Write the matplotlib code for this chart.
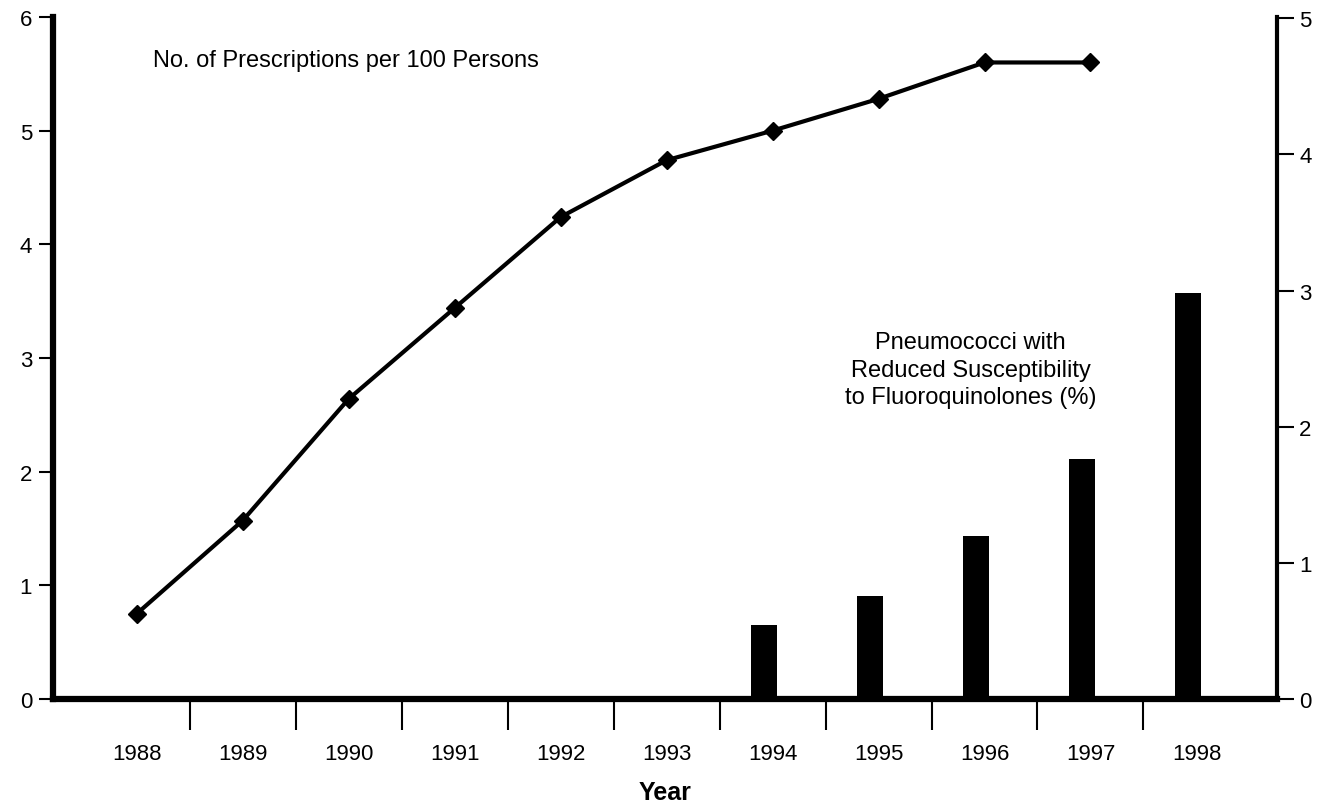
import matplotlib
matplotlib.use("Agg")
import matplotlib.pyplot as plt
import numpy as np

plt.rcParams['font.family'] = ['Liberation Sans', 'DejaVu Sans']

years = ['1988', '1989', '1990', '1991', '1992', '1993', '1994', '1995', '1996', '1997', '1998']
prescriptions = [0.75, 1.57, 2.64, 3.44, 4.24, 4.74, 5.0, 5.28, 5.6, 5.6]  # 1988-1997
bar_years = ['1994', '1995', '1996', '1997', '1998']
resistance = [0.54, 0.76, 1.2, 1.76, 2.98]

fig = plt.figure(figsize=(13.19, 8.04), dpi=100)
ax = fig.add_axes([53/1319, 1 - 700/804, (1277-53)/1319, (700-18)/804])
ax2 = ax.twinx()

x_all = np.arange(len(years))
bx = np.array([years.index(y) for y in bar_years]) - 0.08
ax2.bar(bx, resistance, width=0.25, color='black', zorder=2)
ax.plot(x_all[:len(prescriptions)], prescriptions, color='black', lw=3,
        marker='D', markersize=9, zorder=3)

ax.set_zorder(ax2.get_zorder() + 1)
ax.patch.set_visible(False)

ax.set_xlim(-0.79, 10.76)
ax.set_ylim(0, 6)
ax2.set_ylim(0, 5.01)

for a in (ax, ax2):
    a.spines['top'].set_visible(False)
ax.spines['left'].set_linewidth(4.5)
ax.spines['bottom'].set_linewidth(4.5)
ax.spines['right'].set_visible(False)
ax2.spines['left'].set_visible(False)
ax2.spines['bottom'].set_visible(False)
ax2.spines['right'].set_linewidth(3)

ax.set_yticks(range(0, 7))
ax2.set_yticks(range(0, 6))
ax.tick_params(axis='y', length=10, width=1.5, labelsize=16, pad=5)
ax2.tick_params(axis='y', length=12, width=1.5, labelsize=16, pad=4)

# separator ticks between categories, labels centered
ax.set_xticks(np.arange(0.5, 10.5, 1.0))
ax.set_xticklabels([])
ax.set_xticks(x_all, minor=True)
ax.set_xticklabels(years, minor=True)
ax.tick_params(axis='x', which='major', length=22, width=1.5, direction='out')
ax.tick_params(axis='x', which='minor', length=0, labelsize=16, pad=32)

ax.set_xlabel('Year', fontsize=18, fontweight='bold', labelpad=11)

ax.text(0.15, 5.62, 'No. of Prescriptions per 100 Persons', fontsize=17, ha='left', va='center')
ax2.text(7.87, 2.42, 'Pneumococci with\nReduced Susceptibility\nto Fluoroquinolones (%)',
         fontsize=17, ha='center', va='center', linespacing=1.3)

fig.savefig('out.png', dpi=100)
